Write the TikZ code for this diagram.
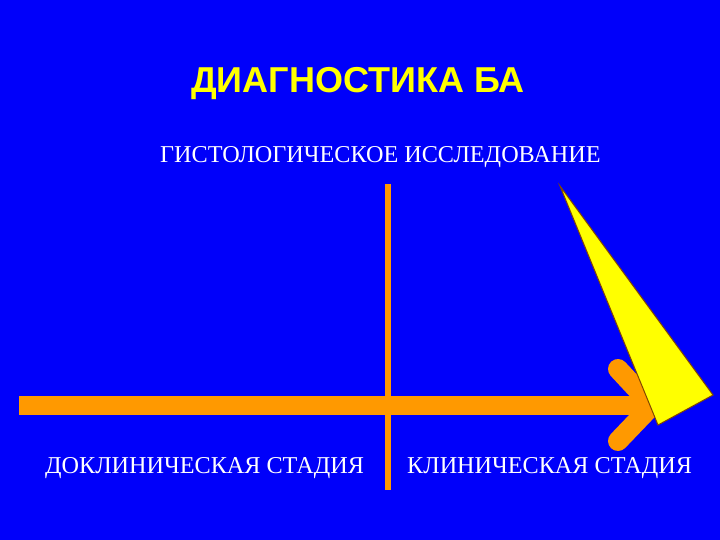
\documentclass[tikz,border=0pt]{standalone}
\usepackage{fontspec}
\setmainfont{Liberation Serif}
\newfontfamily\titlefont{Liberation Sans}
\definecolor{bgblue}{RGB}{0,0,250}
\definecolor{barorange}{RGB}{255,153,0}
\definecolor{tyellow}{RGB}{255,255,0}
\definecolor{tedge}{RGB}{130,70,0}
\begin{document}
\begin{tikzpicture}[x=1pt,y=-1pt,
  lbl/.style={anchor=base west,inner sep=0pt,text=white,font=\fontsize{24.2}{28}\selectfont},
  bar/.style={draw=barorange,line width=19pt},
  arm/.style={draw=barorange,line width=20pt,line cap=round}]
\fill[bgblue] (0,0) rectangle (720,540);
\useasboundingbox (0,0) rectangle (720,540);
\node[anchor=base west,inner sep=0pt,text=tyellow,font=\titlefont\bfseries\fontsize{36}{40}\selectfont] (title) at (191,93) {ДИАГНОСТИКА БА};
\node[lbl] (hist) at (160,163) {ГИСТОЛОГИЧЕСКОЕ ИССЛЕДОВАНИЕ};
\node[lbl] (precl) at (45,473) {ДОКЛИНИЧЕСКАЯ СТАДИЯ};
\node[lbl] (clin) at (407,473) {КЛИНИЧЕСКАЯ СТАДИЯ};
% axis
\coordinate (start) at (19,405.5);
\coordinate (tip) at (652,405.5);
\coordinate (armtop) at (618,369);
\coordinate (armbot) at (618,441);
\draw[bar] (start) -- (tip);
\draw[arm] (armtop) -- (tip);
\draw[arm] (armbot) -- (tip);
% divider
\coordinate (vtop) at (388,184);
\coordinate (vbot) at (388,490);
\draw[barorange,line width=5.5pt] (vtop) -- (vbot);
% yellow wedge
\coordinate (wa) at (560,186);
\coordinate (wb) at (713,395);
\coordinate (wc) at (658,425);
\filldraw[fill=tyellow,draw=tedge,line width=1pt,line join=miter] (wa) -- (wb) -- (wc) -- cycle;
\end{tikzpicture}
\end{document}
